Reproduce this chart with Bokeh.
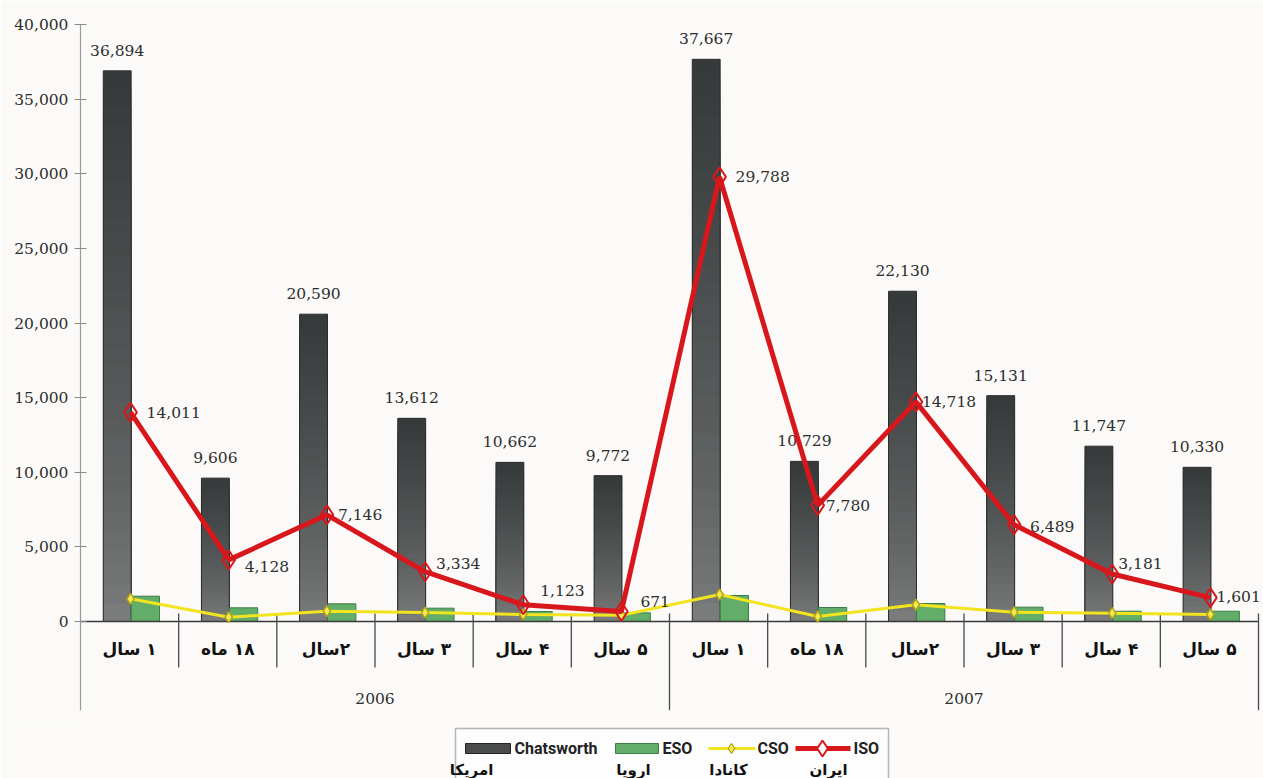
from bokeh.plotting import figure
from bokeh.models import Range1d, FixedTicker, NumeralTickFormatter, ColumnDataSource
from bokeh.layouts import column
from bokeh.core.properties import value
from bokeh.embed import file_html
from bokeh.resources import INLINE

# ---------------- data ----------------
years = ["2006", "2007"]
periods = ["۱ سال", "۱۸ ماه", "۲سال", "۳ سال", "۴ سال", "۵ سال"]
chatsworth = [36894, 9606, 20590, 13612, 10662, 9772,
              37667, 10729, 22130, 15131, 11747, 10330]
eso = [1695, 918, 1186, 893, 670, 580,
       1742, 938, 1206, 960, 690, 690]
cso = [1520, 290, 690, 600, 470, 425,
       1810, 335, 1120, 625, 556, 470]
iso = [14011, 4128, 7146, 3334, 1123, 671,
       29788, 7780, 14718, 6489, 3181, 1601]
y_ticks = [0, 5000, 10000, 15000, 20000, 25000, 30000, 35000, 40000]
series_names = ["Chatsworth", "ESO", "CSO", "ISO"]
series_regions = ["امریکا", "اروپا", "کانادا", "ایران"]

# ---------------- style ----------------
SERIF = value("DejaVu Serif")
BG = "#fbfaf8"
RLM = "\u200f"  # right-to-left mark so Persian labels read right to left
DARK_L, DARK_R = 0.232, 0.516
GREEN_L, GREEN_R = 0.516, 0.805
LINE_X = 0.51
iso_dx = [16, 16, 11, 11, 17, 19, 16, 8, 6, 16, 6, 6]
iso_dy = [0, 7, 0, -8, -14, -10, 0, 0, 0, 2, -11, -1]

n = len(chatsworth)
idx = list(range(n))
cats = [RLM + p for y in years for p in periods]

Y_MIN = -5963
X_MAX = n + 5 / 98.17
p = figure(width=1263, height=722, output_backend="svg", toolbar_location=None,
           x_range=Range1d(0, X_MAX), y_range=Range1d(Y_MIN, 40000),
           x_axis_type=None, min_border_left=80, min_border_right=0,
           min_border_top=24, min_border_bottom=12,
           background_fill_color=BG, border_fill_color=BG)
p.outline_line_color = None
p.grid.visible = False

# y axis
ax = p.yaxis[0]
ax.ticker = FixedTicker(ticks=y_ticks)
ax.formatter = NumeralTickFormatter(format="0,0")
ax.axis_line_color = "#9a9a9a"
ax.axis_line_width = 1.2
ax.major_tick_line_color = "#8a8a8a"
ax.major_tick_in = 6
ax.major_tick_out = 6
ax.minor_tick_line_color = None
ax.major_label_text_font = "DejaVu Serif"
ax.major_label_text_font_size = "15.5px"
ax.major_label_text_color = "#2e2e2e"
ax.major_label_standoff = 6

# gradient dark bars: overlapping slices drawn from tallest (darkest) down
N = 30
def hexmix(c1, c2, t):
    a = [int(c1[i:i + 2], 16) for i in (1, 3, 5)]
    b = [int(c2[i:i + 2], 16) for i in (1, 3, 5)]
    return "#%02x%02x%02x" % tuple(int(round(a[j] + (b[j] - a[j]) * t)) for j in range(3))

L, R, T, C = [], [], [], []
for k in range(N - 1, -1, -1):
    f = (k + 0.5) / N
    col = hexmix("#7e7f7f", "#353939", f ** 0.7)
    for i in idx:
        v = chatsworth[i]
        L.append(i + DARK_L); R.append(i + DARK_R)
        T.append(v * (k + 1) / N)
        C.append(col)
p.quad(left=L, right=R, bottom=0, top=T, fill_color=C, line_color=None)
p.quad(left=[i + DARK_L for i in idx], right=[i + DARK_R for i in idx],
       bottom=0, top=chatsworth, fill_color=None, line_color="#2a2c2c", line_width=1)

# green bars
p.quad(left=[i + GREEN_L for i in idx], right=[i + GREEN_R for i in idx],
       bottom=0, top=eso, fill_color="#62ad69", line_color="#3c7d45", line_width=1)

# bar value labels
p.text(x=[i + (DARK_L + DARK_R) / 2 for i in idx], y=chatsworth,
       text=[f"{v:,}" for v in chatsworth], text_font=SERIF, text_font_size="15.5px",
       text_color="#2e2e2e", text_align="center", text_baseline="bottom", y_offset=-15)

# x axis baseline & separators
p.segment(x0=0, x1=n, y0=0, y1=0, line_color="#3a3a3a", line_width=1.5)
sep_x = [i for i in range(1, n) if i != len(periods)]
p.segment(x0=sep_x, x1=sep_x, y0=540, y1=-3080, line_color="#4a4a4a", line_width=1.3)
yb = [len(periods), n]
p.segment(x0=yb, x1=yb, y0=540, y1=Y_MIN, line_color="#4a4a4a", line_width=1.3)

# category labels
p.text(x=[i + 0.5 for i in idx], y=-1809, text=cats,
       text_font=value("DejaVu Sans"), text_font_style="bold", text_font_size="17px",
       text_color="#111111", text_align="center", text_baseline="middle")
p.text(x=[len(periods) * (j + 0.5) for j in range(len(years))], y=-5159, text=years,
       text_font=SERIF, text_font_size="15.5px", text_color="#2e2e2e",
       text_align="center", text_baseline="middle")

# CSO line
lx = [i + LINE_X for i in idx]
p.line(lx, cso, line_color="#f2e41e", line_width=3)
p.scatter(lx, cso, marker="diamond", size=11, fill_color="#f4ea55",
          line_color="#b3a512", line_width=1.5)

# ISO line
p.line(lx, iso, line_color="#d8171d", line_width=5)
p.scatter(lx, iso, marker="diamond", size=19, fill_color=None,
          line_color="#d8171d", line_width=2)
src = ColumnDataSource(dict(x=lx, y=iso, t=[f"{v:,}" for v in iso], dx=iso_dx, dy=iso_dy))
p.text(x="x", y="y", text="t", x_offset="dx", y_offset="dy", source=src,
       text_font=SERIF, text_font_size="15.5px", text_color="#2e2e2e",
       text_align="left", text_baseline="middle")

# ---------------- legend (separate strip, frame aligned with chart frame) ----------------
LH = 56
lg = figure(width=1263, height=LH, output_backend="svg", toolbar_location=None,
            x_range=Range1d(80, 1263), y_range=Range1d(0, LH),
            x_axis_type=None, y_axis_type=None, min_border=0,
            min_border_left=80, min_border_right=0,
            background_fill_color=BG, border_fill_color=BG)
lg.outline_line_color = None
lg.grid.visible = False
lg.quad(left=[455], right=[888], bottom=[-6], top=[50], fill_color="#fdfdfd",
        line_color="#b5b5b5", line_width=1.5)
row1, row2 = 30, 9
lg.quad(left=[465], right=[510], bottom=[row1 - 5], top=[row1 + 5],
        fill_color="#4a4c4c", line_color="#222222", line_width=1)
lg.quad(left=[615], right=[658], bottom=[row1 - 5], top=[row1 + 5],
        fill_color="#62ad69", line_color="#3c7d45", line_width=1)
lg.line([708, 755], [row1, row1], line_color="#f2e41e", line_width=3)
lg.scatter([731], [row1], marker="diamond", size=10, fill_color="#f4ea55",
           line_color="#b3a512", line_width=1.3)
lg.line([795, 850], [row1, row1], line_color="#d8171d", line_width=5)
lg.scatter([822], [row1], marker="diamond", size=16, fill_color="#fdfdfd",
           line_color="#d8171d", line_width=2)
lg.text(x=[514, 662, 757, 853], y=row1, text=series_names,
        text_font=value("Roboto"), text_font_style="bold",
        text_font_size="16px", text_color="#222222", text_align="left",
        text_baseline="middle")
lg.text(x=[471, 633, 728, 828], y=row2, text=series_regions,
        text_font=value("DejaVu Sans"), text_font_style="bold",
        text_font_size="15px", text_color="#111111", text_align="center",
        text_baseline="middle")

layout = column(p, lg, spacing=0)
open("out.html", "w").write(file_html(layout, INLINE))
